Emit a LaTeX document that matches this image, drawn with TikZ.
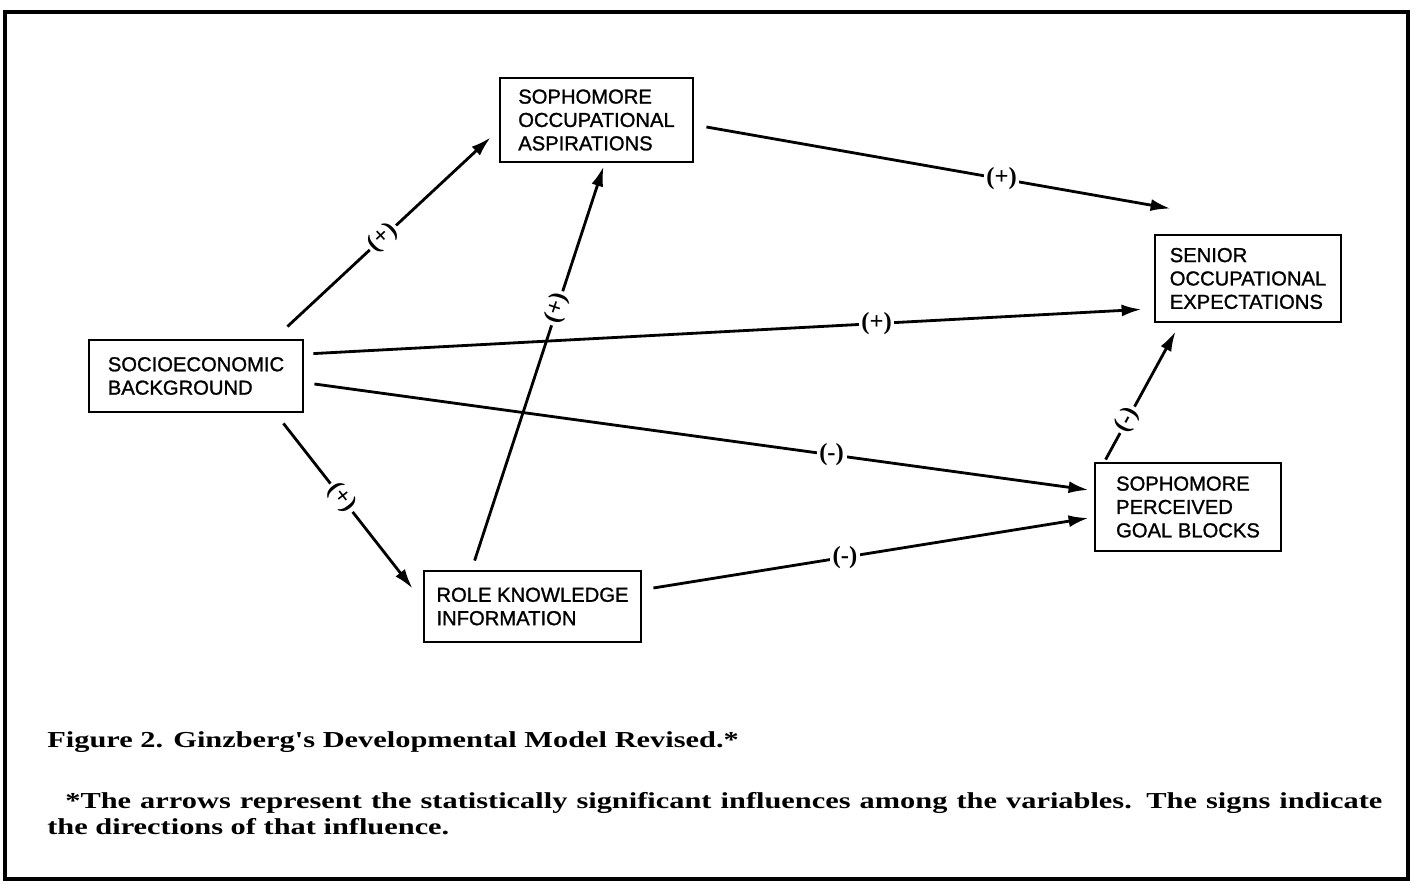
\documentclass[tikz,border=0pt]{standalone}
\usepackage{fontspec}
\setmainfont{Liberation Serif}
\setsansfont{Liberation Sans}
\newfontfamily\notefont[FakeStretch=1.33]{Liberation Serif}
\newfontfamily\boxfont[FakeBold=1.2]{Liberation Sans}
\usetikzlibrary{arrows.meta}

\begin{document}
\begin{tikzpicture}[
        box/.style={draw, line width=1.6pt, inner sep=0pt, align=left, font=\boxfont\fontsize{11.5}{13.3}\selectfont},
        arrow/.style={-{Latex[length=0.4cm, width=0.24cm]}, line width=1.6pt},
        sign/.style={fill=white, inner sep=1.5pt, font=\bfseries\fontsize{14}{14}\selectfont},
        note/.style={anchor=base west, inner sep=0pt, font=\notefont\bfseries\fontsize{13}{14.6}\selectfont}
    ]
    \useasboundingbox (0,0) rectangle (28.3,17.68);
    \draw[line width=2.8pt] (0.1,0.1) rectangle (28.16,17.44);
    \node[box, minimum width=3.86cm, minimum height=1.68cm] (asp) at (11.93,15.28) {SOPHOMORE\\OCCUPATIONAL\\ASPIRATIONS};
    \node[box, minimum width=3.72cm, minimum height=1.74cm] (senior) at (24.96,12.11) {SENIOR\\OCCUPATIONAL\\EXPECTATIONS};
    \node[box, minimum width=4.28cm, minimum height=1.44cm] (socio) at (3.92,10.16) {SOCIOECONOMIC\\BACKGROUND};
    \node[box, minimum width=3.72cm, minimum height=1.76cm] (goal) at (23.76,7.54) {SOPHOMORE\\PERCEIVED\\GOAL BLOCKS};
    \node[box, minimum width=4.34cm, minimum height=1.42cm] (role) at (10.65,5.55) {ROLE KNOWLEDGE\\INFORMATION};
    \draw[arrow] ([xshift=-0.34cm,yshift=0.24cm]socio.north east) -- node[sign, pos=0.47, sloped] {(+)} ([xshift=-0.16cm,yshift=0.52cm]asp.south west);
    \draw[arrow] ([xshift=0.24cm,yshift=-0.14cm]asp.east) -- node[sign, pos=0.636] {(+)} ([xshift=0.34cm,yshift=0.5cm]senior.north west);
    \draw[arrow] ([xshift=0.18cm,yshift=-0.3cm]socio.north east) -- node[sign, pos=0.68] {(+)} ([xshift=-0.24cm,yshift=0.28cm]senior.south west);
    \draw[arrow] ([xshift=0.2cm,yshift=-0.16cm]socio.east) -- node[sign, pos=0.668] {(-)} ([xshift=-0.1cm,yshift=0.34cm]goal.west);
    \draw[arrow] ([xshift=-0.42cm,yshift=-0.2cm]socio.south east) -- node[sign, pos=0.45, sloped] {(+)} ([xshift=-0.2cm,yshift=-0.38cm]role.north west);
    \draw[arrow] ([xshift=1.04cm,yshift=0.18cm]role.north west) -- node[sign, pos=0.64, sloped] {(+)} ([xshift=2.1cm,yshift=-0.06cm]asp.south west);
    \draw[arrow] ([xshift=0.22cm,yshift=0.37cm]role.east) -- node[sign, pos=0.44] {(-)} ([xshift=-0.1cm,yshift=-0.22cm]goal.west);
    \draw[arrow] ([xshift=0.24cm,yshift=0.04cm]goal.north west) -- node[sign, pos=0.31, sloped] {(-)} ([xshift=0.44cm,yshift=-0.16cm]senior.south west);
    \node[note] (caption) at (0.94,2.72) {Figure 2. Ginzberg's Developmental Model Revised.*};
    \node[note, text width=26.7cm, align=justify] (footnote) at (0.94,1.5) {\hspace{0.36cm}*The arrows represent the statistically significant influences among the variables. The signs indicate\linebreak the directions of that influence.};
\end{tikzpicture}
\end{document}
